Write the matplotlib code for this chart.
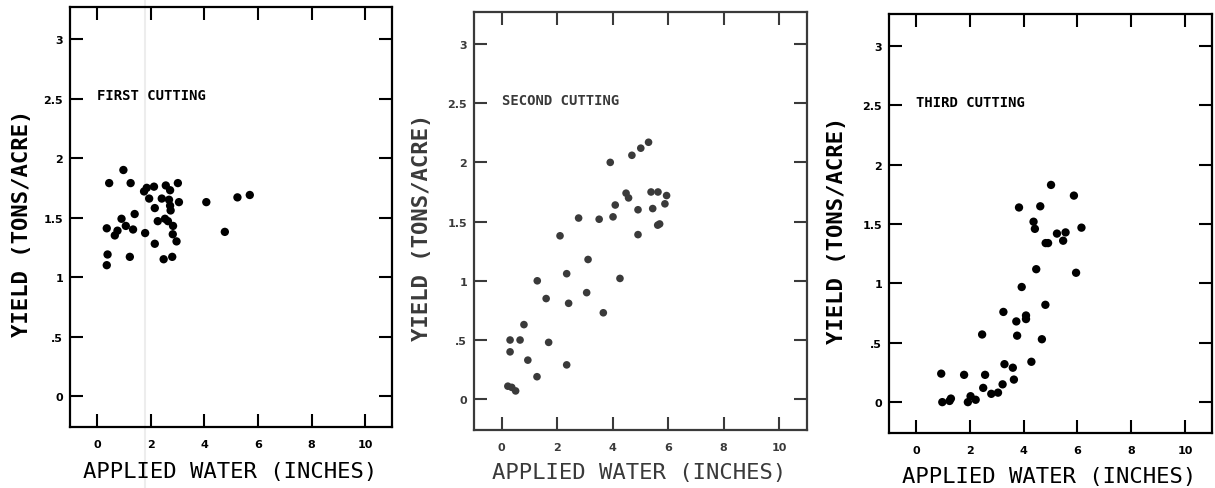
import matplotlib
matplotlib.use("Agg")
import matplotlib.pyplot as plt
from matplotlib.lines import Line2D

# ---- data ----
first_x = [0.99, 0.46, 1.26, 1.76, 1.86, 2.13, 2.57, 2.73, 3.02, 1.95, 2.42, 2.69, 3.06,
           2.73, 2.75, 2.16, 4.08, 5.24, 5.70, 1.41, 0.92, 0.37, 0.77, 0.67, 1.08, 1.35,
           1.80, 2.27, 2.54, 2.65, 2.84, 2.83, 2.97, 2.16, 4.77, 0.40, 1.23, 2.49, 2.81, 0.37]
first_y = [1.90, 1.79, 1.79, 1.72, 1.75, 1.76, 1.77, 1.73, 1.79, 1.66, 1.66, 1.65, 1.63,
           1.60, 1.56, 1.58, 1.63, 1.67, 1.69, 1.53, 1.49, 1.41, 1.39, 1.35, 1.43, 1.40,
           1.37, 1.47, 1.49, 1.47, 1.43, 1.36, 1.30, 1.28, 1.38, 1.19, 1.17, 1.15, 1.17, 1.10]

second_x = [3.91, 4.69, 5.01, 5.29, 4.48, 4.57, 4.09, 4.01, 3.51, 2.77, 2.10, 4.91, 4.91,
            5.38, 5.63, 5.94, 5.44, 5.88, 5.62, 5.69, 3.11, 2.34, 1.28, 4.26, 1.60, 3.06,
            2.41, 3.66, 0.80, 0.30, 0.66, 0.30, 1.69, 0.94, 2.34, 1.27, 0.22, 0.36, 0.50]
second_y = [2.00, 2.06, 2.12, 2.17, 1.74, 1.70, 1.64, 1.54, 1.52, 1.53, 1.38, 1.60, 1.39,
            1.75, 1.75, 1.72, 1.61, 1.65, 1.47, 1.48, 1.18, 1.06, 1.00, 1.02, 0.85, 0.90,
            0.81, 0.73, 0.63, 0.50, 0.50, 0.40, 0.48, 0.33, 0.29, 0.19, 0.11, 0.10, 0.07]

third_x = [5.02, 5.87, 3.83, 4.62, 4.37, 4.42, 6.15, 5.24, 5.56, 5.47, 4.82, 4.91, 4.47,
           5.95, 3.93, 4.81, 3.25, 4.09, 4.09, 3.73, 2.46, 3.76, 4.68, 4.29, 3.29, 3.60,
           3.64, 3.22, 2.50, 2.57, 0.94, 1.79, 2.80, 3.05, 0.98, 1.25, 1.30, 1.93, 2.03, 2.22]
third_y = [1.83, 1.74, 1.64, 1.65, 1.52, 1.46, 1.47, 1.42, 1.43, 1.36, 1.34, 1.34, 1.12,
           1.09, 0.97, 0.82, 0.76, 0.73, 0.70, 0.68, 0.57, 0.56, 0.53, 0.34, 0.32, 0.29,
           0.19, 0.15, 0.12, 0.23, 0.24, 0.23, 0.07, 0.08, 0.00, 0.01, 0.03, 0.00, 0.05, 0.02]

x_ticks = [0, 2, 4, 6, 8, 10]
x_tick_labels = ["0", "2", "4", "6", "8", "10"]
y_ticks = [0, 0.5, 1, 1.5, 2, 2.5, 3]
y_tick_labels = ["0", ".5", "1", "1.5", "2", "2.5", "3"]
titles = ["FIRST CUTTING", "SECOND CUTTING", "THIRD CUTTING"]
xlabel = "APPLIED WATER (INCHES)"
ylabel = "YIELD (TONS/ACRE)"

W, H = 1215, 489
fig = plt.figure(figsize=(W / 100, H / 100), dpi=100)

# faint scan line artifact in the first panel
fig.add_artist(Line2D([145 / W, 145 / W], [0, 1], color="#ededed", lw=1.5, zorder=0))

# axes frames in pixel coords: left, right, top, bottom
frames = [(70, 392, 8, 428), (474, 807, 13, 431), (889, 1212, 15, 434)]
colors = ["#000000", "#3a3a3a", "#000000"]
ylab_x = [-0.119, -0.126, -0.13]
xlab_y = [-0.081, -0.077, -0.079]
series = [(first_x, first_y), (second_x, second_y), (third_x, third_y)]
msizes = [36, 30, 36]

for i, ((l, r, t, b), col) in enumerate(zip(frames, colors)):
    ax = fig.add_axes([l / W, 1 - b / H, (r - l) / W, (b - t) / H])
    ax.set_facecolor("none")
    xs, ys = series[i]
    ax.scatter(xs, ys, s=msizes[i], color=col, edgecolors="none", zorder=3)
    ax.set_xlim(-1, 11)
    ax.set_ylim(-0.26, 3.27)
    ax.set_xticks(x_ticks)
    ax.set_xticklabels(x_tick_labels)
    ax.set_yticks(y_ticks)
    ax.set_yticklabels(y_tick_labels)
    ax.tick_params(direction="in", length=9.5, width=1.5, top=True, right=True,
                   color=col, labelcolor=col)
    ax.tick_params(axis="x", pad=9)
    ax.tick_params(axis="y", pad=5)
    for lab in ax.get_xticklabels() + ax.get_yticklabels():
        lab.set_fontweight("bold")
        lab.set_fontsize(8)
        lab.set_family("DejaVu Sans")
    for sp in ax.spines.values():
        sp.set_linewidth(1.6)
        sp.set_color(col)
    ax.text(0.0, 2.53, titles[i], fontsize=10, fontweight="bold",
            family="DejaVu Sans Mono", color=col, ha="left", va="center")
    ax.set_xlabel(xlabel, fontsize=16, family="DejaVu Sans Mono", color=col)
    ax.xaxis.set_label_coords(0.497, xlab_y[i])
    ax.xaxis.label.set_va("top")
    ax.set_ylabel(ylabel, fontsize=16, family="DejaVu Sans Mono",
                  fontweight="bold", color=col)
    ax.yaxis.set_label_coords(ylab_x[i], 0.487)

fig.savefig("out.png", dpi=100)
